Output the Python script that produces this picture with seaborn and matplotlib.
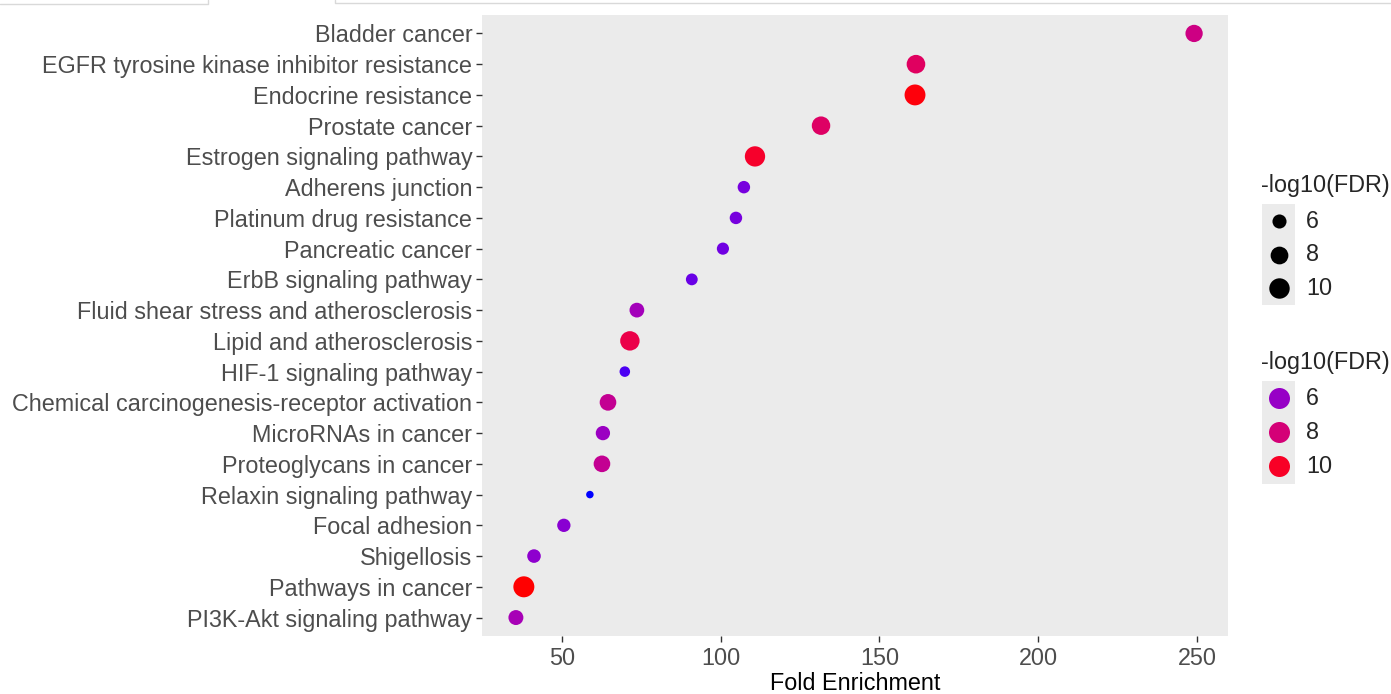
import numpy as np
import pandas as pd
import matplotlib
matplotlib.use("Agg")
import matplotlib.pyplot as plt
import seaborn as sns
from matplotlib.patches import Rectangle

# data (top to bottom)
pathways = [
    "Bladder cancer", "EGFR tyrosine kinase inhibitor resistance", "Endocrine resistance",
    "Prostate cancer", "Estrogen signaling pathway", "Adherens junction",
    "Platinum drug resistance", "Pancreatic cancer", "ErbB signaling pathway",
    "Fluid shear stress and atherosclerosis", "Lipid and atherosclerosis",
    "HIF-1 signaling pathway", "Chemical carcinogenesis-receptor activation",
    "MicroRNAs in cancer", "Proteoglycans in cancer", "Relaxin signaling pathway",
    "Focal adhesion", "Shigellosis", "Pathways in cancer", "PI3K-Akt signaling pathway",
]
fold_enrichment = [249.1, 161.5, 161.2, 131.6, 110.8, 107.3, 104.8, 100.7, 90.9, 73.6,
                   71.4, 69.8, 64.5, 62.9, 62.6, 58.8, 50.6, 41.2, 38.0, 35.5]
neg_log10_fdr = [7.7, 8.6, 10.4, 8.5, 9.9, 5.4, 5.4, 5.3, 5.2, 6.3,
                 9.2, 4.9, 7.3, 6.1, 7.3, 4.6, 5.7, 5.8, 10.5, 6.4]
legend_breaks = [6, 8, 10]

W, H = 1391, 694
FS = 16.8

df = pd.DataFrame({"pathway": pathways, "fold": fold_enrichment, "fdr": neg_log10_fdr})


# ggplot-like blue -> red gradient, interpolated in Lab
M = np.array([[0.4124, 0.3576, 0.1805], [0.2126, 0.7152, 0.0722], [0.0193, 0.1192, 0.9505]])
WHITE = np.array([0.95047, 1.0, 1.08883])


def to_lab(rgb):
    rgb = np.asarray(rgb, float)
    c = np.where(rgb > 0.04045, ((rgb + 0.055) / 1.055) ** 2.4, rgb / 12.92)
    xyz = M @ c / WHITE
    f = np.where(xyz > 0.008856, np.cbrt(xyz), 7.787 * xyz + 16 / 116)
    return np.array([116 * f[1] - 16, 500 * (f[0] - f[1]), 200 * (f[1] - f[2])])


def from_lab(lab):
    L, a, b = lab
    fy = (L + 16) / 116
    f = np.array([fy + a / 500, fy, fy - b / 200])
    xyz = np.where(f ** 3 > 0.008856, f ** 3, (f - 16 / 116) / 7.787) * WHITE
    c = np.linalg.inv(M) @ xyz
    rgb = np.where(c > 0.0031308, 1.055 * np.clip(c, 0, None) ** (1 / 2.4) - 0.055, 12.92 * c)
    return tuple(np.clip(rgb, 0, 1))


LOW, HIGH = to_lab([0, 0, 1]), to_lab([1, 0, 0])
vmin, vmax = min(neg_log10_fdr), max(neg_log10_fdr)


def colour(v):
    t = (v - vmin) / (vmax - vmin)
    return from_lab(LOW + (HIGH - LOW) * t)


def diam_px(v):
    t = np.clip((v - vmin) / (vmax - vmin), 0, 1)
    return 7.5 + 13.5 * np.sqrt(t)


def area(v):
    return (diam_px(v) * 72 / 100) ** 2


sns.set_theme(style="dark")
plt.rcParams["font.family"] = ["Liberation Sans", "DejaVu Sans"]

fig = plt.figure(figsize=(W / 100, H / 100), dpi=100)
ax = fig.add_axes([482 / W, 1 - 636 / H, (1228 - 482) / W, (636 - 15) / H])
ax.set_facecolor("#EBEBEB")

sns.scatterplot(data=df, x="fold", y="pathway", hue="fdr", size="fdr",
                palette={v: colour(v) for v in neg_log10_fdr},
                sizes={v: area(v) for v in neg_log10_fdr},
                linewidth=0, legend=False, ax=ax)

rng = max(fold_enrichment) - min(fold_enrichment)
ax.set_xlim(min(fold_enrichment) - 0.05 * rng, max(fold_enrichment) + 0.05 * rng)
ax.set_ylim(len(pathways) - 0.4, -0.6)
ax.set_xticks([50, 100, 150, 200, 250])
ax.grid(False)
for s in ax.spines.values():
    s.set_visible(False)
ax.tick_params(axis="both", length=4, width=1, color="#333333", labelcolor="#4D4D4D",
               labelsize=FS, pad=3, left=True, bottom=True)
ax.tick_params(axis="x", pad=4)
ax.set_xlabel("Fold Enrichment", fontsize=FS, color="black", labelpad=1)
ax.set_ylabel("")

# legends, drawn in figure pixel coordinates
lax = fig.add_axes([0, 0, 1, 1])
lax.set_xlim(0, W)
lax.set_ylim(H, 0)
lax.axis("off")
lax.patch.set_alpha(0)

lax.text(1261, 185, "-log10(FDR)", fontsize=FS, va="center", ha="left")
lax.add_patch(Rectangle((1262, 204), 33, 101, color="#EBEBEB", lw=0))
lax.text(1261, 362, "-log10(FDR)", fontsize=FS, va="center", ha="left")
lax.add_patch(Rectangle((1262, 381), 33, 103, color="#EBEBEB", lw=0))
for i, b in enumerate(legend_breaks):
    ys, yc = 221 + 33.5 * i, 398 + 34 * i
    lax.scatter([1279], [ys], s=area(b), color="black", lw=0)
    lax.scatter([1279], [yc], s=(21 * 0.72) ** 2, color=colour(b), lw=0)
    lax.text(1306, ys, str(b), fontsize=FS, va="center", ha="left")
    lax.text(1306, yc, str(b), fontsize=FS, va="center", ha="left")

# thin tab outlines at the very top of the screenshot
lax.plot([0, 208, 208], [4, 4, 0], color="#D9D9D9", lw=1)
lax.plot([335, 335, W], [0, 3, 3], color="#D9D9D9", lw=1)

fig.savefig("out.png", dpi=100)
